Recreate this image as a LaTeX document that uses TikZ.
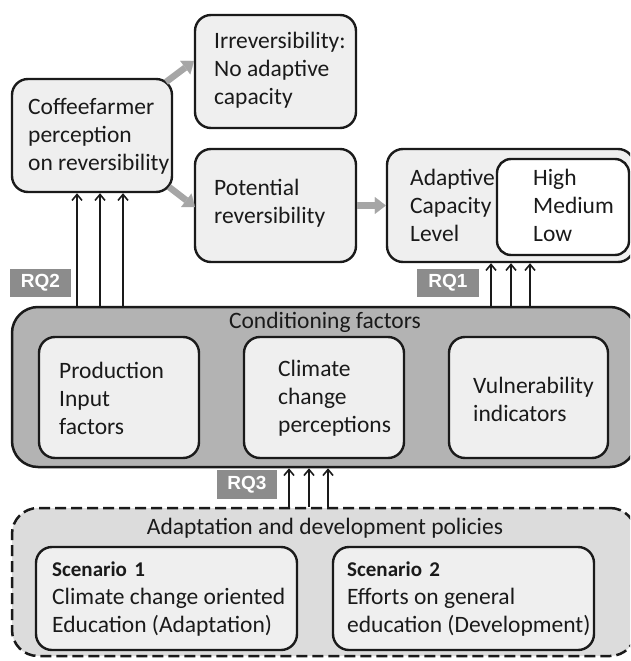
\documentclass[tikz,border=0pt]{standalone}
\usepackage{fontspec}
\setmainfont{Carlito}
\newfontfamily\rqfont{Liberation Sans}
\usetikzlibrary{arrows.meta}
\definecolor{boxfill}{HTML}{EFEFEF}
\definecolor{condfill}{HTML}{B3B3B3}
\definecolor{polfill}{HTML}{DCDCDC}
\definecolor{rqfill}{HTML}{8C8C8C}
\definecolor{fatgray}{HTML}{A6A6A6}
\definecolor{inkc}{HTML}{1A1A1A}
\begin{document}
\begin{tikzpicture}[x=1pt,y=-1pt,
  box/.style={draw=inkc, line width=2.4pt, fill=boxfill, rounded corners=16pt, inner sep=0pt},
  bigbox/.style={draw=inkc, line width=2.5pt, rounded corners=26pt, inner sep=0pt},
  txt/.style={anchor=west, align=left, inner sep=0pt, text=inkc, font=\fontsize{23.5}{28}\selectfont},
  ttl/.style={align=center, inner sep=0pt, text=inkc, font=\fontsize{23.5}{28}\selectfont},
  rq/.style={fill=rqfill, inner sep=0pt, text=white, font=\rqfont\bfseries\fontsize{19}{20}\selectfont},
  up/.style={draw=inkc, line width=1.6pt, -{Straight Barb[length=6pt,width=10pt]}},
  fat/.style={draw=fatgray, line width=6.5pt, -{Triangle[length=11pt,width=17pt,line width=0.1pt]}},
]
\useasboundingbox (0,0) rectangle (630,661);
\clip (0,0) rectangle (630,661);

% top row
\node[box, minimum width=160, minimum height=113] (cf) at (92,135.5) {};
\node[box, minimum width=161, minimum height=113] (irr) at (275.5,71.5) {};
\node[box, minimum width=161, minimum height=113] (pot) at (275.5,205.5) {};
\node[box, minimum width=247, minimum height=113] (acl) at (510.5,205.5) {};
\node[box, fill=white, rounded corners=14pt, minimum width=132, minimum height=96] (hml) at (563,207) {};

\node[txt] (cft) at (28,136) {Coffeefarmer\\perception\\on reversibility};
\node[txt] (irrt) at (214,70) {Irreversibility:\\No adaptive\\capacity};
\node[txt] (pott) at (214,203) {Potential\\reversibility};
\node[txt] (aclt) at (410,205) {Adaptive\\Capacity\\Level};
\node[txt] (hmlt) at (533,205) {High\\Medium\\Low};

% fat arrows
\coordinate (f1s) at (166,82);
\coordinate (f1e) at (194,61);
\coordinate (f2s) at (169,187);
\coordinate (f2e) at (195,207);
\draw[fat] (f1s) -- (f1e);
\draw[fat] (f2s) -- (f2e);
\draw[fat] (pot.east) -- (acl.west);

% conditioning factors
\node[bigbox, fill=condfill, minimum width=624, minimum height=160] (cond) at (324,387) {};
\node[ttl] (condt) at (325,322) {Conditioning factors};
\node[box, minimum width=160, minimum height=121] (prod) at (119,397.5) {};
\node[box, minimum width=160, minimum height=121] (clim) at (324,397.5) {};
\node[box, minimum width=159, minimum height=121] (vuln) at (528.5,397.5) {};
\node[txt] (prodt) at (59,398) {Production\\Input\\factors};
\node[txt] (climt) at (278,398) {Climate\\change\\perceptions};
\node[txt] (vulnt) at (473,399) {Vulnerability\\indicators};

% policies
\node[bigbox, fill=polfill, dash pattern=on 11pt off 5pt, minimum width=624, minimum height=148] (pol) at (324,582) {};
\node[ttl] (polt) at (325,528) {Adaptation and development policies};
\node[box, minimum width=261, minimum height=103] (sc1) at (166.5,598.5) {};
\node[box, minimum width=261, minimum height=103] (sc2) at (463.5,598.5) {};
\node[txt] (sc1t) at (52,599) {{\bfseries\fontsize{21}{28}\selectfont Scenario\hspace{0.35em}1}\\Climate change oriented\\Education (Adaptation)};
\node[txt] (sc2t) at (347,599) {{\bfseries\fontsize{21}{28}\selectfont Scenario\hspace{0.35em}2}\\Efforts on general\\education (Development)};

% RQ labels
\node[rq, minimum width=61, minimum height=28] (rq2) at (40.5,283) {RQ2};
\node[rq, minimum width=62, minimum height=28] (rq1) at (448,283) {RQ1};
\node[rq, minimum width=60, minimum height=29] (rq3) at (247,484.5) {RQ3};

% thin arrows
\coordinate (a1) at (77,0);
\coordinate (a2) at (100,0);
\coordinate (a3) at (123,0);
\coordinate (b1) at (491,0);
\coordinate (b2) at (511,0);
\coordinate (b3) at (530,0);
\coordinate (c1) at (289,0);
\coordinate (c2) at (309,0);
\coordinate (c3) at (328,0);
\foreach \p in {a1,a2,a3}{\draw[up] (\p |- cond.north) -- (\p |- cf.south);}
\foreach \p in {b1,b2,b3}{\draw[up] (\p |- cond.north) -- (\p |- acl.south);}
\foreach \p in {c1,c2,c3}{\draw[up] (\p |- pol.north) -- (\p |- cond.south);}
\end{tikzpicture}
\end{document}
